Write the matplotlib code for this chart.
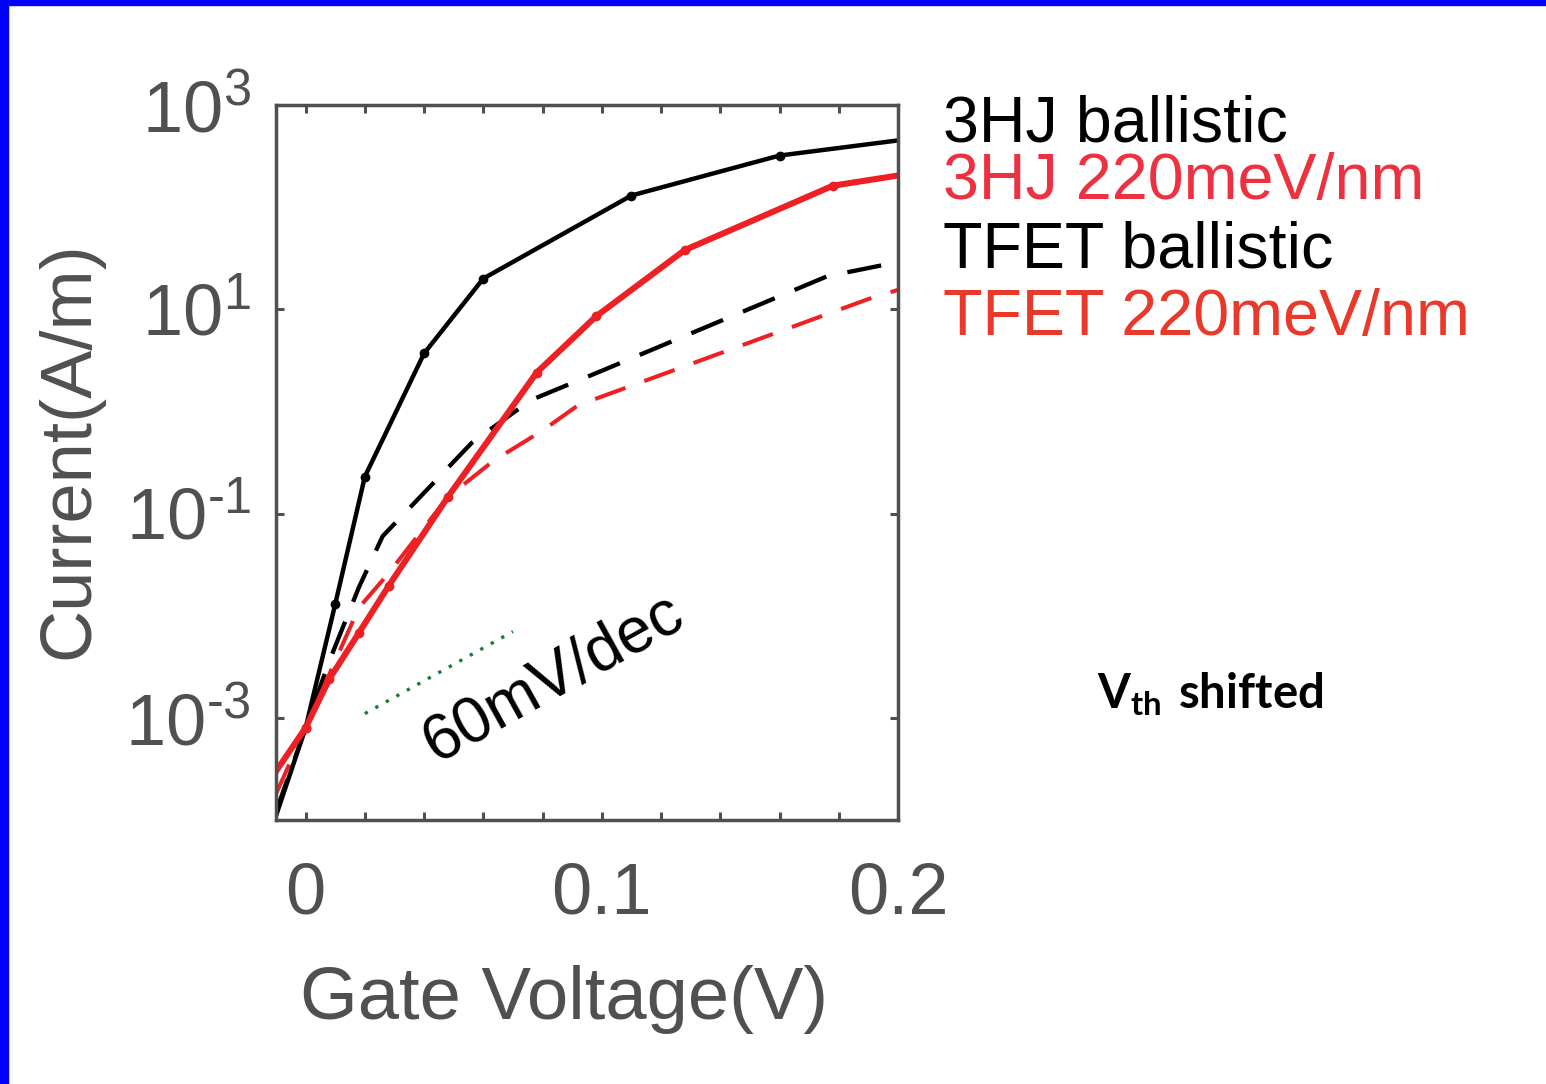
import matplotlib
matplotlib.use("Agg")
import matplotlib.pyplot as plt
import numpy as np
from matplotlib.patches import Rectangle
from matplotlib.ticker import FixedLocator, FuncFormatter

plt.rcParams['font.family'] = ['Liberation Sans', 'DejaVu Sans']
plt.rcParams['mathtext.fontset'] = 'custom'
plt.rcParams['mathtext.rm'] = 'Liberation Sans'
plt.rcParams['mathtext.bf'] = 'Lato:bold'
plt.rcParams['mathtext.default'] = 'regular'

# Id-Vg data (gate voltage in V, current in A/m)
vg_3hj_ball = [-0.01, 0.0, 0.01, 0.02, 0.04, 0.06, 0.11, 0.16, 0.2]
id_3hj_ball = [1.1e-4, 8e-4, 1.3e-2, 0.23, 3.7, 20, 130, 320, 450]

vg_3hj_220 = [-0.01, 0.0, 0.008, 0.018, 0.028, 0.048, 0.078, 0.098, 0.128, 0.178, 0.2]
id_3hj_220 = [3.0e-4, 8.0e-4, 2.4e-3, 6.8e-3, 1.95e-2, 0.145, 2.4, 8.5, 38, 162, 204]

vg_tfet_ball = [-0.01, 0.0, 0.008, 0.018, 0.026, 0.056, 0.076, 0.1, 0.176, 0.2]
id_tfet_ball = [1.2e-4, 8e-4, 3.6e-3, 1.9e-2, 6.0e-2, 0.49, 1.29, 2.5, 21, 29]

vg_tfet_220 = [-0.01, 0.0, 0.018, 0.028, 0.048, 0.0635, 0.08, 0.092, 0.19, 0.2]
id_tfet_220 = [1.8e-4, 8e-4, 1.2e-2, 2.6e-2, 0.145, 0.33, 0.65, 1.15, 12.6, 15.5]

# 60 mV/dec reference slope
vg_ref = [0.02, 0.07]
id_ref = [1.1e-3, 7.0e-3]

labels = ["3HJ ballistic", "3HJ 220meV/nm", "TFET ballistic", "TFET 220meV/nm"]
label_colors = ["black", "#ee3140", "black", "#e8392a"]

W, H = 1546, 1084
fig = plt.figure(figsize=(W / 100, H / 100), dpi=100)
ax = fig.add_axes([276 / W, 1 - 820 / H, (898 - 276) / W, (820 - 105) / H])

red = "#ee2024"
ax.plot(vg_tfet_ball, id_tfet_ball, color="black", lw=3.1, dashes=(8, 5))
ax.plot(vg_tfet_220, id_tfet_220, color=red, lw=2.9, dashes=(8, 5))
ax.plot(vg_3hj_ball, id_3hj_ball, color="black", lw=3.2, marker="o", ms=6,
        markevery=slice(1, -1))
ax.plot(vg_3hj_220, id_3hj_220, color=red, lw=4.4, marker="o", ms=6,
        markevery=slice(1, -1))
ax.plot(vg_ref, id_ref, color="#1e7b34", lw=2.4, dashes=(1, 2.6))

ax.text(0.0838, 2.45e-3, "60mV/dec", rotation=29, ha="center", va="center",
        fontsize=46, color="black")

ax.set_yscale("log")
ax.set_xlim(-0.01, 0.2)
ax.set_ylim(1e-4, 1e3)

gray = "#505050"
for s in ax.spines.values():
    s.set_color(gray)
    s.set_linewidth(2.5)

ax.xaxis.set_major_locator(FixedLocator(np.arange(0, 0.2001, 0.02)))
ax.xaxis.set_major_formatter(FuncFormatter(
    lambda v, p: {0: "0", 5: "0.1", 10: "0.2"}.get(int(round(v / 0.02)), "")))
ax.yaxis.set_major_locator(FixedLocator([1e-3, 1e-1, 1e1, 1e3]))
ax.yaxis.set_minor_locator(FixedLocator([]))


def dec_label(v, p):
    e = int(round(np.log10(v)))
    # short hyphen in the exponent, not a math minus
    s = ("\u2010%d" % -e) if e < 0 else "%d" % e
    return r"$10^{%s}$" % s


ax.yaxis.set_major_formatter(FuncFormatter(dec_label))
ax.tick_params(which="both", direction="in", top=True, right=True,
               length=6, width=2.2, color=gray, labelcolor=gray, labelsize=52)
ax.tick_params(axis="x", pad=30)
ax.tick_params(axis="y", pad=18)

fig.text(564 / W, 1 - 1000 / H, "Gate Voltage(V)", ha="center", va="center",
         fontsize=53.5, color=gray)
fig.text(70 / W, 1 - 450 / H, "Current(A/m)", ha="center", va="center",
         rotation=90, fontsize=52, color=gray)

baselines = [142, 199, 268, 335]
for txt, c, yb in zip(labels, label_colors, baselines):
    fig.text(943 / W, 1 - yb / H, txt, ha="left", va="baseline",
             fontsize=46.5, color=c)

fig.text(1097 / W, 1 - 708 / H, r"$\mathbf{V_{th}\ shifted}$", ha="left",
         va="baseline", fontsize=34, color="black")

# slide frame edges
fig.patches.append(Rectangle((0, 0), 8 / W, 1, transform=fig.transFigure,
                             color="#0000ff", zorder=10))
fig.patches.append(Rectangle((0, 1 - 5 / H), 1, 5 / H, transform=fig.transFigure,
                             color="#0000ff", zorder=10))

fig.savefig("out.png", dpi=100)
